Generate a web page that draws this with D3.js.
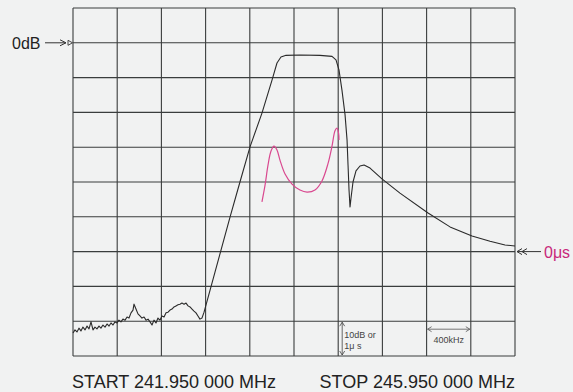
<!DOCTYPE html>
<html>
<head>
<meta charset="utf-8">
<script src="https://cdn.jsdelivr.net/npm/d3@7"></script>
<style>
  body { margin: 0; background: #f1f2f2; }
  svg { display: block; font-family: "Liberation Sans", Arial, sans-serif; }
</style>
</head>
<body>
<div id="chart"></div>
<script>
// sweep 241.95 .. 245.95 MHz, 400 kHz / div, 10 dB / div (1 us / div)
var freqTicks = [241.95, 242.35, 242.75, 243.15, 243.55, 243.95, 244.35, 244.75, 245.15, 245.55, 245.95];
var dbTicks = [10, 0, -10, -20, -30, -40, -50, -60, -70, -80, -90];

// amplitude trace (MHz, dB)
var ampFreq = [241.950, 241.968, 241.986, 242.004, 242.022, 242.040, 242.059, 242.077, 242.095, 242.113,
  242.131, 242.149, 242.167, 242.185, 242.203, 242.221, 242.240, 242.258, 242.276, 242.294,
  242.312, 242.330, 242.348, 242.366, 242.384, 242.402, 242.421, 242.439, 242.457, 242.475,
  242.493, 242.502, 242.520, 242.538, 242.556, 242.574, 242.593, 242.611, 242.629, 242.647,
  242.665, 242.683, 242.701, 242.719, 242.737, 242.755, 242.774, 242.792, 242.810, 242.828,
  242.846, 242.864, 242.882, 242.900, 242.918, 242.936, 242.955, 242.973, 242.991, 243.009,
  243.027, 243.045, 243.063, 243.081, 243.099, 243.117, 243.136,
  243.235, 243.371, 243.461, 243.552, 243.660, 243.751, 243.796, 243.832, 243.878, 244.004,
  244.185, 244.294, 244.330, 244.357, 244.384, 244.412, 244.430, 244.439, 244.448, 244.457,
  244.466, 244.484, 244.511, 244.547, 244.584, 244.638, 244.746, 244.909, 245.163, 245.362,
  245.561, 245.724, 245.860, 245.950];
var ampDb = [-83.4, -82.5, -83.1, -82.0, -82.8, -81.7, -82.5, -81.4, -82.2, -80.2,
  -82.5, -81.7, -82.2, -81.4, -82.0, -81.1, -81.7, -80.8, -81.4, -80.5,
  -81.1, -80.2, -80.5, -79.7, -80.2, -79.4, -79.7, -78.8, -79.1, -77.6,
  -76.8, -75.1, -76.5, -77.9, -78.5, -79.1, -78.8, -79.7, -79.4, -80.2,
  -81.1, -79.7, -80.5, -79.1, -79.7, -78.5, -78.8, -77.6, -77.4, -76.8,
  -76.5, -75.9, -75.6, -75.3, -75.1, -74.8, -75.1, -74.8, -75.6, -75.9,
  -76.5, -77.1, -77.6, -78.5, -79.4, -79.1, -77.4,
  -65.9, -50.1, -40.0, -29.9, -20.2, -10.7, -5.8, -4.1, -3.6, -3.5,
  -3.6, -3.9, -4.9, -7.8, -13.6, -20.7, -27.9, -35.1, -42.3, -47.2,
  -44.6, -40.0, -36.8, -35.4, -35.1, -36.0, -39.1, -43.2, -48.9, -52.9,
  -55.5, -57.0, -58.1, -58.4];

// group delay trace (MHz, us)
var delayFreq = [243.660, 243.688, 243.715, 243.742, 243.769, 243.796, 243.823, 243.869, 243.932, 244.004,
  244.068, 244.140, 244.203, 244.257, 244.294, 244.321, 244.339, 244.353, 244.357];
var delayUs = [1.43, 1.91, 2.49, 2.89, 3.03, 2.92, 2.63, 2.23, 1.94, 1.77,
  1.71, 1.77, 2.03, 2.52, 3.03, 3.47, 3.55, 3.41, 3.21];

var W = 573, H = 392;
var gLeft = 73, gRight = 515, gTop = 8, gBottom = 356;
var pink = "#d9488f";

var svg = d3.select("#chart").append("svg")
  .attr("width", W)
  .attr("height", H);

var x = d3.scaleLinear().domain([241.95, 245.95]).range([gLeft, gRight]);
var y = d3.scaleLinear().domain([10, -90]).range([gTop, gBottom]);
var yUs = d3.scaleLinear().domain([7, -3]).range([gTop, gBottom]);

// grid
svg.append("g").selectAll("line").data(freqTicks).enter().append("line")
  .attr("x1", function(d){ return x(d); })
  .attr("x2", function(d){ return x(d); })
  .attr("y1", gTop).attr("y2", gBottom)
  .attr("stroke", "#3a3d3d").attr("stroke-width", 1.1);
svg.append("g").selectAll("line").data(dbTicks).enter().append("line")
  .attr("y1", function(d){ return y(d); })
  .attr("y2", function(d){ return y(d); })
  .attr("x1", gLeft).attr("x2", gRight)
  .attr("stroke", "#3a3d3d").attr("stroke-width", 1.1);

// traces
var amp = ampFreq.map(function(f, i){ return [f, ampDb[i]]; });
var delay = delayFreq.map(function(f, i){ return [f, delayUs[i]]; });

svg.append("path")
  .datum(amp)
  .attr("d", d3.line().x(function(d){ return x(d[0]); }).y(function(d){ return y(d[1]); }))
  .attr("fill", "none").attr("stroke", "#2a2a2a").attr("stroke-width", 1.1)
  .attr("stroke-linejoin", "round");

svg.append("path")
  .datum(delay)
  .attr("d", d3.line().curve(d3.curveCatmullRom).x(function(d){ return x(d[0]); }).y(function(d){ return yUs(d[1]); }))
  .attr("fill", "none").attr("stroke", pink).attr("stroke-width", 1.2);

// 0dB marker
var y0 = y(0);
svg.append("text").attr("x", 12).attr("y", y0 + 6)
  .attr("font-size", 16).attr("fill", "#222").text("0dB");
svg.append("line").attr("x1", 45).attr("x2", 66).attr("y1", y0).attr("y2", y0)
  .attr("stroke", "#333").attr("stroke-width", 1);
svg.append("path").attr("d", "M60," + (y0 - 3) + "L66," + y0 + "L60," + (y0 + 3))
  .attr("fill", "none").attr("stroke", "#333").attr("stroke-width", 1);
svg.append("path").attr("d", "M68," + (y0 - 2.5) + "L72.5," + y0 + "L68," + (y0 + 2.5) + "Z")
  .attr("fill", "none").attr("stroke", "#333").attr("stroke-width", 0.9);

// 0us marker
var yu = yUs(0);
svg.append("line").attr("x1", gRight + 2).attr("x2", 541).attr("y1", yu).attr("y2", yu)
  .attr("stroke", "#333").attr("stroke-width", 1);
[0, 5].forEach(function(o){
  svg.append("path").attr("d", "M" + (gRight + 7 + o) + "," + (yu - 3) + "L" + (gRight + 2 + o) + "," + yu + "L" + (gRight + 7 + o) + "," + (yu + 3))
    .attr("fill", "none").attr("stroke", "#333").attr("stroke-width", 1);
});
svg.append("text").attr("x", 544).attr("y", yu + 6)
  .attr("font-size", 16).attr("fill", "#c8287a").text("0\u03bcs");

// scale notes
var ax = x(244.35) + 4, ay1 = y(-80) + 1, ay2 = y(-90) - 1;
svg.append("line").attr("x1", ax).attr("x2", ax).attr("y1", ay1).attr("y2", ay2)
  .attr("stroke", "#444").attr("stroke-width", 0.8);
svg.append("path").attr("d", "M" + (ax - 2.5) + "," + (ay1 + 4) + "L" + ax + "," + ay1 + "L" + (ax + 2.5) + "," + (ay1 + 4))
  .attr("fill", "none").attr("stroke", "#444").attr("stroke-width", 0.8);
svg.append("path").attr("d", "M" + (ax - 2.5) + "," + (ay2 - 4) + "L" + ax + "," + ay2 + "L" + (ax + 2.5) + "," + (ay2 - 4))
  .attr("fill", "none").attr("stroke", "#444").attr("stroke-width", 0.8);
svg.append("text").attr("x", ax + 2).attr("y", y(-80) + 17)
  .attr("font-size", 9).attr("fill", "#444").text("10dB or");
svg.append("text").attr("x", ax + 2).attr("y", y(-80) + 28)
  .attr("font-size", 9).attr("fill", "#444").text("1\u03bc s");

var hx1 = x(245.15) + 1, hx2 = x(245.55) - 1, hy = y(-80) + 8;
svg.append("line").attr("x1", hx1).attr("x2", hx2).attr("y1", hy).attr("y2", hy)
  .attr("stroke", "#555").attr("stroke-width", 0.8);
svg.append("path").attr("d", "M" + (hx1 + 4) + "," + (hy - 2.5) + "L" + hx1 + "," + hy + "L" + (hx1 + 4) + "," + (hy + 2.5))
  .attr("fill", "none").attr("stroke", "#555").attr("stroke-width", 0.8);
svg.append("path").attr("d", "M" + (hx2 - 4) + "," + (hy - 2.5) + "L" + hx2 + "," + hy + "L" + (hx2 - 4) + "," + (hy + 2.5))
  .attr("fill", "none").attr("stroke", "#555").attr("stroke-width", 0.8);
svg.append("text").attr("x", (hx1 + hx2) / 2).attr("y", hy + 14)
  .attr("text-anchor", "middle").attr("font-size", 9).attr("fill", "#444").text("400kHz");

// start / stop
svg.append("text").attr("x", 72).attr("y", 388)
  .attr("font-size", 18).attr("fill", "#222").text("START 241.950 000 MHz");
svg.append("text").attr("x", gRight).attr("y", 388).attr("text-anchor", "end")
  .attr("font-size", 18).attr("fill", "#222").text("STOP 245.950 000 MHz");
</script>
</body>
</html>
